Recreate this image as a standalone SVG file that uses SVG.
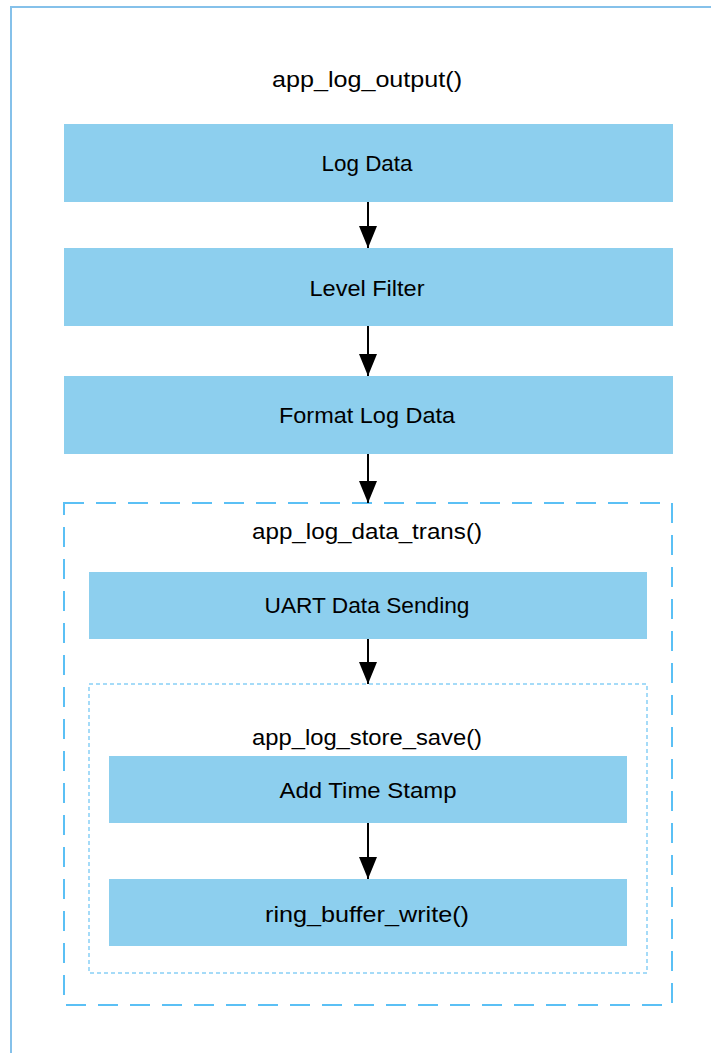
<svg xmlns="http://www.w3.org/2000/svg" width="711" height="1053" viewBox="0 0 711 1053">
<defs>
<style>
.box{fill:#8dcfee}
.t{font-family:"Liberation Sans",Arial,sans-serif;font-size:22px;fill:#000;text-anchor:middle}
.c{stroke:#000;stroke-width:2;fill:none}
</style>
<marker id="ah" markerWidth="18" markerHeight="22" refX="9" refY="22" orient="0" markerUnits="userSpaceOnUse" viewBox="0 0 18 22">
<path d="M0,0 L18,0 L9,22 Z" fill="#000"/>
</marker>
</defs>
<rect x="0" y="0" width="711" height="1053" fill="#fff"/>
<rect id="frame" x="11" y="7" width="720" height="1060" fill="none" stroke="#85c1ea" stroke-width="2"/>
<text class="t" x="367" y="87" textLength="190" lengthAdjust="spacingAndGlyphs">app_log_output()</text>
<g id="logdata"><rect class="box" x="64" y="124" width="609" height="78"/><text class="t" x="367" y="171" textLength="91" lengthAdjust="spacingAndGlyphs">Log Data</text></g>
<g id="levelfilter"><rect class="box" x="64" y="248" width="609" height="78"/><text class="t" x="367" y="296" textLength="115" lengthAdjust="spacingAndGlyphs">Level Filter</text></g>
<g id="format"><rect class="box" x="64" y="376" width="609" height="78"/><text class="t" x="367" y="423" textLength="176" lengthAdjust="spacingAndGlyphs">Format Log Data</text></g>
<g id="trans"><rect x="64" y="503" width="608" height="502" fill="none" stroke="#5bc0f5" stroke-width="2" stroke-dasharray="20,12"/><text class="t" x="367" y="539" textLength="230" lengthAdjust="spacingAndGlyphs">app_log_data_trans()</text></g>
<g id="uart"><rect class="box" x="89" y="572" width="558" height="67"/><text class="t" x="367" y="613" textLength="205" lengthAdjust="spacingAndGlyphs">UART Data Sending</text></g>
<g id="store"><rect x="89" y="684" width="558" height="289" fill="none" stroke="#a5dbf8" stroke-width="2" stroke-dasharray="4,3"/><text class="t" x="367" y="745" textLength="230" lengthAdjust="spacingAndGlyphs">app_log_store_save()</text></g>
<g id="timestamp"><rect class="box" x="109" y="756" width="518" height="67"/><text class="t" x="368" y="798" textLength="177" lengthAdjust="spacingAndGlyphs">Add Time Stamp</text></g>
<g id="ring"><rect class="box" x="109" y="879" width="518" height="67"/><text class="t" x="367" y="922" textLength="204" lengthAdjust="spacingAndGlyphs">ring_buffer_write()</text></g>
<g id="connectors">
<line class="c" x1="368" y1="202" x2="368" y2="248" marker-end="url(#ah)"/>
<line class="c" x1="368" y1="326" x2="368" y2="376" marker-end="url(#ah)"/>
<line class="c" x1="368" y1="454" x2="368" y2="503" marker-end="url(#ah)"/>
<line class="c" x1="368" y1="639" x2="368" y2="684" marker-end="url(#ah)"/>
<line class="c" x1="368" y1="823" x2="368" y2="879" marker-end="url(#ah)"/>
</g>
</svg>
